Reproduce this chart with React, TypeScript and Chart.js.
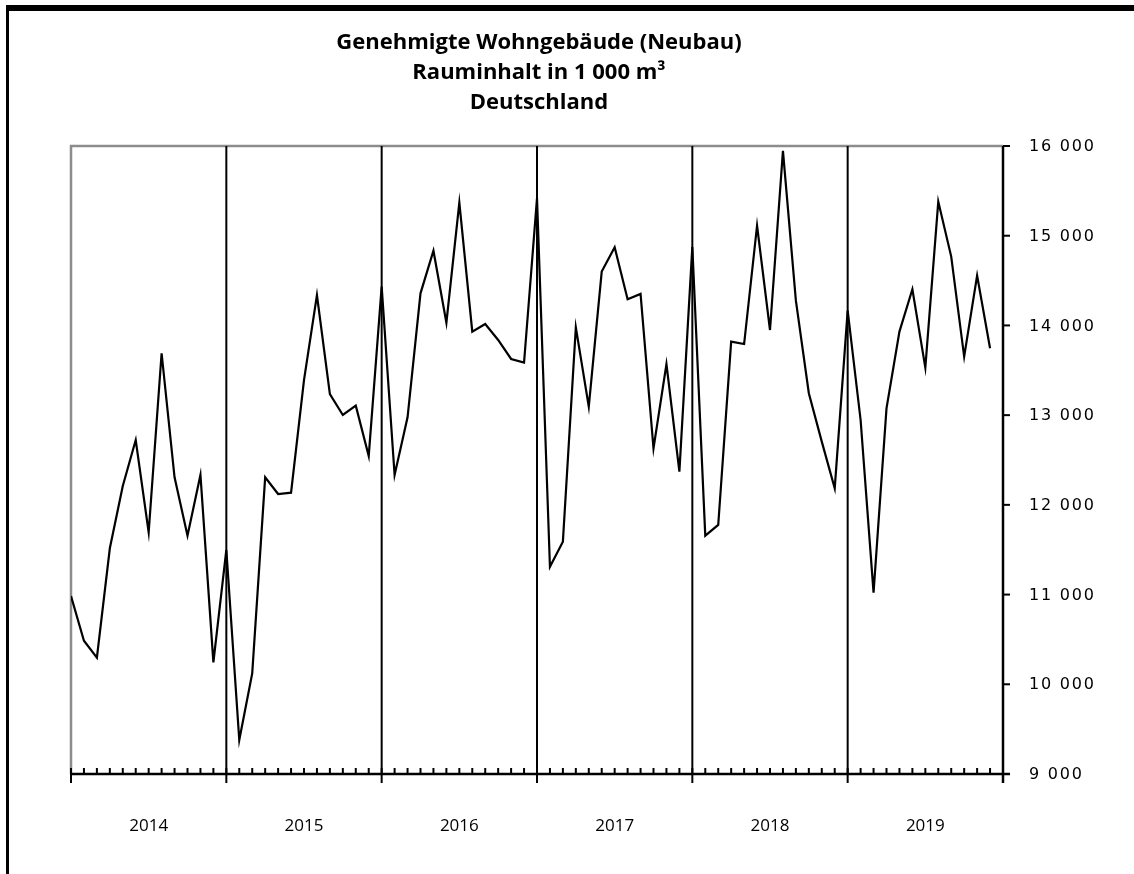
import { useEffect, useRef } from 'react';
import { Chart, registerables } from 'chart.js';

Chart.register(...registerables);

const titleLines = ['Genehmigte Wohngebäude (Neubau)', 'Rauminhalt in 1 000 m³', 'Deutschland'];
const years = ['2014', '2015', '2016', '2017', '2018', '2019'];
const yTicks = [9000, 10000, 11000, 12000, 13000, 14000, 15000, 16000];

const values2014 = [10984, 10486, 10297, 11516, 12210, 12723, 11694, 13690, 12307, 11657, 12333, 10245];
const values2015 = [11497, 9379, 10122, 12307, 12121, 12136, 13390, 14339, 13235, 13002, 13106, 12545];
const values2016 = [14432, 12333, 12976, 14358, 14833, 14031, 15369, 13931, 14016, 13838, 13626, 13585];
const values2017 = [15417, 11311, 11590, 13979, 13095, 14600, 14871, 14291, 14351, 12630, 13570, 12370];
const values2018 = [14875, 11657, 11776, 13819, 13793, 15112, 13949, 15945, 14276, 13244, 12705, 12184];
const values2019 = [14165, 12946, 11021, 13076, 13931, 14403, 13530, 15380, 14767, 13652, 14555, 13745];

const monthly = [...values2014, ...values2015, ...values2016, ...values2017, ...values2018, ...values2019];

const fmt = (v: number) => `${Math.floor(v / 1000)} ${String(v % 1000).padStart(3, '0')}`;

const decorPlugin = {
  id: 'decor',
  beforeDatasetsDraw(chart: any) {
    const { ctx, chartArea } = chart;
    const x = chart.scales.x;
    const y = chart.scales.y;
    const { left, right, top, bottom } = chartArea;
    ctx.save();
    ctx.lineCap = 'butt';
    ctx.strokeStyle = '#8c8c8c';
    ctx.lineWidth = 2.5;
    ctx.beginPath();
    ctx.moveTo(left, bottom);
    ctx.lineTo(left, top);
    ctx.lineTo(right, top);
    ctx.stroke();
    ctx.strokeStyle = '#000';
    ctx.lineWidth = 2;
    for (let k = 1; k < years.length; k++) {
      const px = x.getPixelForValue(k * 12);
      ctx.beginPath();
      ctx.moveTo(px, top);
      ctx.lineTo(px, bottom + 9);
      ctx.stroke();
    }
    ctx.lineWidth = 2.5;
    ctx.beginPath();
    ctx.moveTo(right, top);
    ctx.lineTo(right, bottom + 9);
    ctx.stroke();
    ctx.lineWidth = 2;
    yTicks.forEach((t) => {
      const py = y.getPixelForValue(t);
      ctx.beginPath();
      ctx.moveTo(right, py);
      ctx.lineTo(right + 7, py);
      ctx.stroke();
    });
    ctx.lineWidth = 2.5;
    ctx.beginPath();
    ctx.moveTo(left, bottom);
    ctx.lineTo(right + 7, bottom);
    ctx.stroke();
    ctx.lineWidth = 2;
    for (let i = 0; i <= years.length * 12; i++) {
      const px = x.getPixelForValue(i);
      ctx.beginPath();
      ctx.moveTo(px, bottom);
      ctx.lineTo(px, bottom - 6);
      ctx.stroke();
    }
    ctx.beginPath();
    ctx.moveTo(left, bottom - 6);
    ctx.lineTo(left, bottom + 9);
    ctx.stroke();
    ctx.restore();
  },
  afterDraw(chart: any) {
    const { ctx, chartArea } = chart;
    const x = chart.scales.x;
    const y = chart.scales.y;
    const { left, right, top, bottom } = chartArea;
    ctx.save();
    ctx.fillStyle = '#000';
    ctx.fillRect(6, 5, chart.width - 6, 6);
    ctx.fillRect(6, 5, 3, chart.height - 5);
    ctx.textAlign = 'center';
    ctx.textBaseline = 'middle';
    ctx.font = 'bold 22px "Open Sans"';
    const cx = (left + right) / 2 + 2;
    titleLines.forEach((line, i) => {
      ctx.fillText(line, cx, top - 103 + i * 30);
    });
    ctx.textAlign = 'left';
    ctx.font = '16px "DejaVu Sans"';
    (ctx as any).letterSpacing = '1.8px';
    yTicks.forEach((t) => {
      ctx.fillText(fmt(t), right + 26, y.getPixelForValue(t) + 1);
    });
    (ctx as any).letterSpacing = '0px';
    ctx.textAlign = 'center';
    ctx.font = '17px "Open Sans"';
    years.forEach((yr, k) => {
      ctx.fillText(yr, x.getPixelForValue(k * 12 + 6), bottom + 52);
    });
    ctx.restore();
  },
};

export default function App() {
  const ref = useRef<HTMLCanvasElement>(null);
  useEffect(() => {
    if (!ref.current) return;
    const chart = new Chart(ref.current, {
      type: 'line',
      data: {
        datasets: [
          {
            data: monthly.map((v, i) => ({ x: i, y: v })),
            borderColor: '#000',
            borderWidth: 2.2,
            pointRadius: 0,
            tension: 0,
            fill: false,
          },
        ],
      },
      options: {
        animation: false,
        responsive: false,
        layout: { padding: { left: 71, right: 131, top: 146, bottom: 100 } },
        plugins: { legend: { display: false }, tooltip: { enabled: false }, title: { display: false } },
        scales: {
          x: { type: 'linear', min: 0, max: 72, display: false },
          y: { min: 9000, max: 16000, display: false },
        },
      },
      plugins: [decorPlugin],
    } as any);
    return () => chart.destroy();
  }, []);
  return (
    <div style={{ position: 'absolute', left: 0, top: 0, width: 1134, height: 874, background: '#fff' }}>
      <canvas ref={ref} width={1134} height={874} style={{ display: 'block' }} />
    </div>
  );
}
